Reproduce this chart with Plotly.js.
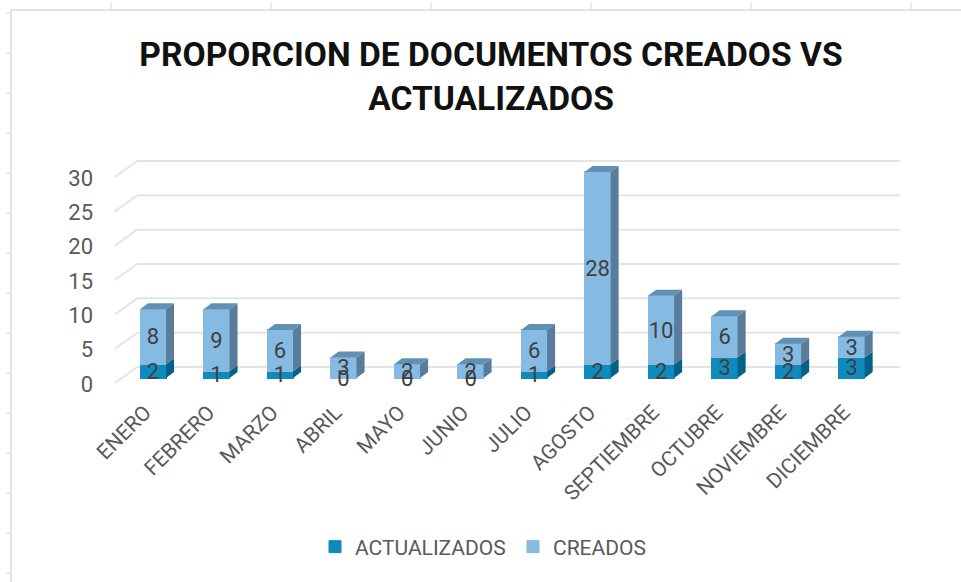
<!DOCTYPE html>
<html>
<head>
<meta charset="utf-8">
<script src="https://cdn.plot.ly/plotly-3.0.1.min.js"></script>
<style>html,body{margin:0;padding:0;background:#fff}#c{width:961px;height:582px}</style>
</head>
<body>
<div id="c"></div>
<script>
const categories = ["ENERO","FEBRERO","MARZO","ABRIL","MAYO","JUNIO","JULIO","AGOSTO","SEPTIEMBRE","OCTUBRE","NOVIEMBRE","DICIEMBRE"];
const actualizados = [2,1,1,0,0,0,1,2,2,3,2,3];
const creados = [8,9,6,3,2,2,6,28,10,6,3,3];
const yTicks = [0,5,10,15,20,25,30];

const idx = categories.map((_, i) => i);
const totals = creados.map((v, i) => v + actualizados[i]);

// pseudo-3D geometry in axis units
const barW = 0.41, depthX = 0.126, depthY = 0.87;
const gridBackX = -0.25, gridEndX = 11.76, gridFrontX = -0.6, gridBackDY = 1.6, gridFrontDY = -0.73;
const labelDY = -0.85, textDY = -0.3;

const FONT = "Roboto, 'Liberation Sans', sans-serif";
const GRID = "#e4e4e4", TXT = "#595959";

function sidePoly(low, high) {
  const xs = [], ys = [];
  idx.forEach(i => {
    const r = i + barW / 2;
    xs.push(r, r + depthX, r + depthX, r, r, null);
    ys.push(low[i], low[i] + depthY, high[i] + depthY, high[i], low[i], null);
  });
  return {x: xs, y: ys};
}
function topPoly(h) {
  const xs = [], ys = [];
  idx.forEach(i => {
    const l = i - barW / 2, r = i + barW / 2;
    xs.push(l, l + depthX, r + depthX, r, l, null);
    ys.push(h[i], h[i] + depthY, h[i] + depthY, h[i], h[i], null);
  });
  return {x: xs, y: ys};
}
function face(p, color) {
  return {type: "scatter", mode: "lines", x: p.x, y: p.y, fill: "toself", fillcolor: color,
    line: {width: 0, color: color}, showlegend: false, hoverinfo: "skip"};
}

const zeros = idx.map(() => 0);
const traces = [
  {type: "bar", name: "ACTUALIZADOS", x: idx, y: actualizados, width: barW, marker: {color: "#0f8abd", line: {width: 1, color: "#0f8abd"}}, hoverinfo: "skip"},
  {type: "bar", name: "CREADOS", x: idx, y: creados, width: barW, marker: {color: "#85bae2", line: {width: 1, color: "#85bae2"}}, hoverinfo: "skip"},
  face(sidePoly(zeros, actualizados), "#02628a"),
  face(sidePoly(actualizados, totals), "#587c99"),
  face(topPoly(totals), "#6190b5"),
  {type: "scatter", mode: "text", x: idx, y: actualizados.map(v => v / 2 + textDY), text: actualizados.map(String),
    textposition: "middle center", textfont: {family: FONT, size: 22, color: "#404040"}, showlegend: false, hoverinfo: "skip", cliponaxis: false},
  {type: "scatter", mode: "text", x: idx, y: creados.map((v, i) => actualizados[i] + v / 2 + textDY), text: creados.map(String),
    textposition: "middle center", textfont: {family: FONT, size: 22, color: "#404040"}, showlegend: false, hoverinfo: "skip", cliponaxis: false}
];

const gridShapes = [];
const gl = {color: GRID, width: 2};
yTicks.forEach(v => {
  gridShapes.push({type: "line", layer: "below", xref: "x", yref: "y", x0: gridBackX, x1: gridEndX, y0: v + gridBackDY, y1: v + gridBackDY, line: gl});
  gridShapes.push({type: "line", layer: "below", xref: "x", yref: "y", x0: gridFrontX, x1: gridBackX, y0: v + gridFrontDY, y1: v + gridBackDY, line: gl});
});

// sheet cell borders behind the chart
const W = 961, H = 582, ml = 97, mr = 56, mt = 150, mb = 187;
const pw = W - ml - mr, ph = H - mt - mb;
const px = x => (x - ml) / pw, py = y => (H - mb - y) / ph;
const sheet = {color: "#e3e3e3", width: 2};
const sheetShapes = [
  {type: "line", xref: "paper", yref: "paper", x0: px(11), x1: px(961), y0: py(10), y1: py(10), line: sheet},
  {type: "line", xref: "paper", yref: "paper", x0: px(11), x1: px(11), y0: py(10), y1: py(582), line: sheet}
];
[111,271,431,591,751,911].forEach(x => sheetShapes.push({type: "line", xref: "paper", yref: "paper", x0: px(x), x1: px(x), y0: py(2), y1: py(10), line: {color: "#e3e3e3", width: 1.5}}));
[13,53,93,133,173,213,253,293,333,373,413,453,493,533,573].forEach(y => sheetShapes.push({type: "line", xref: "paper", yref: "paper", x0: px(6), x1: px(11), y0: py(y), y1: py(y), line: {color: "#e3e3e3", width: 1.5}}));

const layout = {
  width: W, height: H,
  margin: {l: ml, r: mr, t: mt, b: mb, pad: 0},
  paper_bgcolor: "#fff", plot_bgcolor: "rgba(0,0,0,0)",
  barmode: "stack",
  hovermode: false,
  title: {text: "PROPORCION DE DOCUMENTOS CREADOS VS<br>ACTUALIZADOS", x: 491 / W, xanchor: "center", xref: "container",
    y: 1 - 66 / H, yref: "container", yanchor: "top", pad: {t: 0}, font: {family: FONT, size: 33.6, color: "#111", weight: 700}},
  xaxis: {type: "linear", range: [-0.882, 11.84], tickmode: "array", tickvals: idx, ticktext: categories, tickangle: -45,
    ticklabelshift: -8, tickfont: {family: FONT, size: 21, color: TXT}, showgrid: false, zeroline: false, showline: false, ticks: "", automargin: false},
  yaxis: {type: "linear", range: [-2.47, 33.2], tickmode: "array", tickvals: yTicks.map(v => v + labelDY), ticktext: yTicks.map(String),
    ticklabelstandoff: 3, tickfont: {family: FONT, size: 22, color: TXT}, showgrid: false, zeroline: false, showline: false, ticks: "", automargin: false},
  legend: {orientation: "h", x: px(315), xanchor: "left", y: py(547), yanchor: "middle", traceorder: "normal",
    font: {family: FONT, size: 21, color: TXT}, itemwidth: 30, entrywidth: 153, entrywidthmode: "pixels", bgcolor: "rgba(0,0,0,0)"},
  shapes: sheetShapes.concat(gridShapes)
};
Plotly.newPlot("c", traces, layout, {displayModeBar: false, staticPlot: true});
</script>
</body>
</html>
